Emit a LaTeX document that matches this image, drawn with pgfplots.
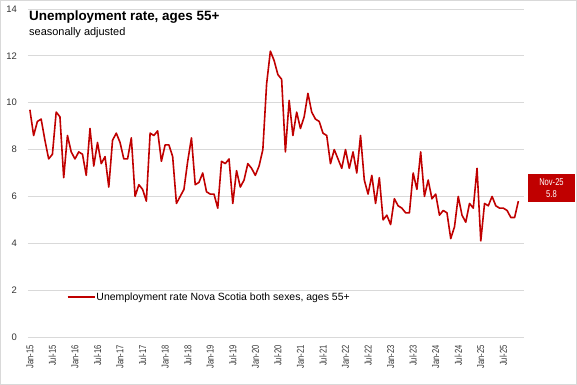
\documentclass[border=0pt]{standalone}
\usepackage{fontspec}
\setmainfont{Liberation Sans}
\usepackage{graphicx}
\usepackage{pgfplots}
\pgfplotsset{compat=1.18}
\usepackage{pgfplotstable}
\newcommand{\nl}[1]{\scalebox{0.76}[1]{#1}}
\definecolor{linered}{HTML}{C00000}
\definecolor{gridgray}{HTML}{D9D9D9}
\pgfplotstableread{
m v
0 9.7
1 8.6
2 9.2
3 9.3
4 8.4
5 7.6
6 7.8
7 9.6
8 9.4
9 6.8
10 8.6
11 7.9
12 7.6
13 7.9
14 7.8
15 6.9
16 8.9
17 7.3
18 8.3
19 7.4
20 7.7
21 6.4
22 8.4
23 8.7
24 8.3
25 7.6
26 7.6
27 8.5
28 6.0
29 6.5
30 6.3
31 5.8
32 8.7
33 8.6
34 8.8
35 7.5
36 8.2
37 8.2
38 7.7
39 5.7
40 6.0
41 6.3
42 7.5
43 8.5
44 6.5
45 6.6
46 7.0
47 6.2
48 6.1
49 6.1
50 5.5
51 7.5
52 7.4
53 7.6
54 5.7
55 7.1
56 6.4
57 6.7
58 7.4
59 7.2
60 6.9
61 7.3
62 8.0
63 10.8
64 12.2
65 11.8
66 11.2
67 11.0
68 7.9
69 10.1
70 8.6
71 9.6
72 8.9
73 9.4
74 10.4
75 9.6
76 9.3
77 9.2
78 8.7
79 8.6
80 7.4
81 8.0
82 7.6
83 7.2
84 8.0
85 7.2
86 7.9
87 7.0
88 8.6
89 6.7
90 6.1
91 6.9
92 5.7
93 6.8
94 5.0
95 5.2
96 4.8
97 5.9
98 5.6
99 5.5
100 5.3
101 5.3
102 7.0
103 6.3
104 7.9
105 6.0
106 6.7
107 5.9
108 6.1
109 5.2
110 5.4
111 5.3
112 4.2
113 4.7
114 6.0
115 5.2
116 4.9
117 5.7
118 5.5
119 7.2
120 4.1
121 5.7
122 5.6
123 6.0
124 5.6
125 5.5
126 5.5
127 5.4
128 5.1
129 5.1
130 5.8
}\datatable
\begin{document}
\begin{tikzpicture}
\useasboundingbox (-28bp,-48bp) rectangle (549bp,337bp);
\draw[gridgray, line width=0.8bp] (-27.6bp,-47.6bp) rectangle (548.6bp,336.6bp);
\begin{axis}[
  at={(0,0)}, anchor=south west,
  scale only axis, width=496bp, height=328bp,
  xmin=-0.5, xmax=131.5, ymin=0, ymax=14,
  ytick={0,2,...,14},
  xtick={0,6,...,126},
  xticklabels={\nl{Jan-15},\nl{Jul-15},\nl{Jan-16},\nl{Jul-16},\nl{Jan-17},\nl{Jul-17},\nl{Jan-18},\nl{Jul-18},\nl{Jan-19},\nl{Jul-19},\nl{Jan-20},\nl{Jul-20},\nl{Jan-21},\nl{Jul-21},\nl{Jan-22},\nl{Jul-22},\nl{Jan-23},\nl{Jul-23},\nl{Jan-24},\nl{Jul-24},\nl{Jan-25},\nl{Jul-25}},
  xticklabel style={rotate=90, anchor=east, inner sep=0pt, font=\fontsize{10}{11}\selectfont, text=black!80},
  xticklabel shift=8bp,
  yticklabel style={anchor=east, inner sep=0pt, xshift=-11bp, font=\fontsize{9.5}{10}\selectfont, text=black!80},
  /pgf/number format/assume math mode=true,
  major tick length=0pt,
  axis line style={draw=none},
  ymajorgrids=true,
  major grid style={gridgray, line width=0.8bp},
  clip=false,
  legend style={at={(axis description cs:0.078,0.122)}, anchor=west, draw=none, fill=none, inner sep=0pt, font=\fontsize{10.5}{12}\selectfont, nodes={inner sep=1bp}},
  legend image code/.code={\draw[#1] (0bp,0bp) -- (27bp,0bp);},
]
\addplot[linered, line width=1.6bp, line join=round, mark=none] table[x=m, y=v] {\datatable};
\addlegendentry{Unemployment rate Nova Scotia both sexes, ages 55+}
\node[fill=linered, text=white, minimum width=47bp, minimum height=28bp, inner sep=0pt, align=center, font=\fontsize{10}{12}\selectfont] at (rel axis cs:1.0554,0.4543) {\nl{Nov-25}\\\nl{5.8}};
\end{axis}
\node[anchor=base west, inner sep=0pt, font=\bfseries\fontsize{13.5}{15}\selectfont] at (1bp,316bp) {Unemployment rate, ages 55+};
\node[anchor=base west, inner sep=0pt, font=\fontsize{11}{13}\selectfont] at (1bp,301bp) {seasonally adjusted};
\end{tikzpicture}
\end{document}
